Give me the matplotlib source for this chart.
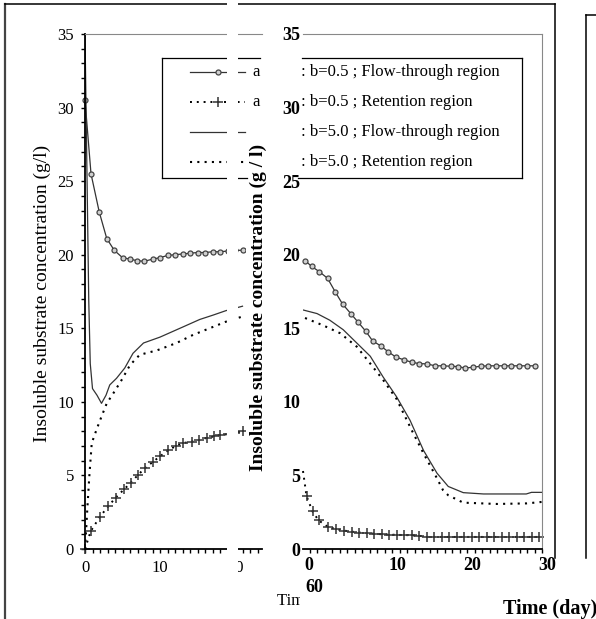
import matplotlib
matplotlib.use("Agg")
import matplotlib.pyplot as plt
from matplotlib.lines import Line2D
from matplotlib.patches import Rectangle
from matplotlib.ticker import MultipleLocator, FixedLocator
import matplotlib.transforms as mtransforms

W, H = 596, 619
plt.rcParams['font.family'] = ['Liberation Serif', 'DejaVu Serif']

# ---- left panel (time in days) ----
left_circ_x = [0, 0.8, 1.9, 2.9, 3.9, 5.0, 6.0, 6.9, 7.9, 9.0, 10.0, 11.0, 12.0, 13.0, 14.0, 15.0, 16.0, 17.0, 18.0, 19.0, 20.0, 21.0]
left_circ_y = [30.5, 25.5, 22.9, 21.1, 20.3, 19.8, 19.7, 19.6, 19.55, 19.7, 19.8, 19.95, 20.0, 20.05, 20.1, 20.15, 20.15, 20.2, 20.2, 20.25, 20.3, 20.3]
left_cross_x = [0, 0.75, 2.0, 3.1, 4.1, 5.2, 6.1, 7.0, 8.0, 9.0, 10.0, 11.1, 12.1, 13.1, 14.2, 15.2, 16.2, 17.2, 18.0, 19.0, 20.0, 21.0]
left_cross_y = [0.0, 1.2, 2.2, 2.9, 3.5, 4.05, 4.5, 5.0, 5.5, 5.9, 6.3, 6.7, 7.0, 7.2, 7.3, 7.4, 7.55, 7.65, 7.75, 7.8, 7.9, 8.0]
left_solid_x = [0, 0.5, 0.7, 1.0, 1.6, 2.2, 2.8, 3.3, 4.2, 5.3, 6.4, 7.8, 10.0, 13.1, 15.3, 17.1, 18.8, 21.0]
left_solid_y = [35.0, 16.9, 12.6, 10.9, 10.45, 9.9, 10.45, 11.15, 11.6, 12.3, 13.3, 14.0, 14.4, 15.1, 15.6, 15.9, 16.2, 16.5]
left_dot_x = [0, 0.13, 0.3, 0.57, 0.9, 1.6, 2.2, 2.9, 3.8, 4.9, 6.0, 7.3, 9.6, 12.2, 14.4, 17.1, 18.8, 21.0]
left_dot_y = [0, 1.1, 2.65, 4.9, 7.2, 8.2, 9.0, 9.9, 10.6, 11.5, 12.5, 13.2, 13.5, 14.0, 14.55, 15.1, 15.45, 15.8]

# ---- right panel ----
right_circ_x = [-1.6, -0.7, 0.3, 1.4, 2.4, 3.4, 4.5, 5.5, 6.5, 7.4, 8.5, 9.5, 10.5, 11.6, 12.6, 13.6, 14.7, 15.7, 16.8, 17.8,
                18.8, 19.7, 20.8, 21.8, 22.8, 23.8, 24.9, 25.9, 26.9, 28.0, 29.1]
right_circ_y = [19.6, 19.2, 18.85, 18.4, 17.5, 16.65, 16.0, 15.4, 14.8, 14.15, 13.8, 13.4, 13.05, 12.85, 12.7, 12.6, 12.58, 12.45, 12.45, 12.42,
                12.4, 12.3, 12.35, 12.42, 12.45, 12.45, 12.45, 12.45, 12.45, 12.45, 12.45]
right_cross_x = [-1.87, -1.4, -0.6, 0.2, 1.4, 2.5, 3.6, 4.6, 5.6, 6.6, 7.6, 8.6, 9.6, 10.6, 11.6, 12.6, 13.6, 14.6, 15.6, 16.6,
                 17.6, 18.6, 19.6, 20.6, 21.6, 22.6, 23.6, 24.6, 25.6, 26.6, 27.6, 28.6, 29.6]
right_cross_y = [5.3, 3.6, 2.55, 1.95, 1.52, 1.35, 1.25, 1.18, 1.12, 1.08, 1.05, 1.0, 0.98, 0.96, 0.95, 0.93, 0.9, 0.82, 0.82, 0.82,
                 0.82, 0.82, 0.82, 0.82, 0.82, 0.82, 0.82, 0.82, 0.82, 0.82, 0.82, 0.82, 0.82]
right_solid_x = [-1.9, 0.0, 1.7, 3.5, 5.3, 7.1, 8.8, 10.6, 12.4, 14.2, 16.0, 17.5, 19.5, 22.2, 24.8, 27.9, 28.6, 30.0]
right_solid_y = [16.25, 16.0, 15.55, 14.9, 14.0, 13.1, 11.7, 10.35, 8.75, 6.7, 5.15, 4.25, 3.83, 3.74, 3.74, 3.74, 3.85, 3.85]
right_dot_x = [-1.6, 0.8, 3.1, 5.3, 7.1, 8.8, 10.6, 12.7, 14.2, 16.0, 16.8, 17.5, 19.5, 24.0, 28.0, 30.0]
right_dot_y = [15.7, 15.2, 14.66, 13.75, 12.6, 11.5, 10.2, 8.0, 6.5, 4.8, 4.0, 3.65, 3.15, 3.06, 3.1, 3.2]

legend_left = ["a", "a", "", ""]
legend_right = [": b=0.5 ; Flow-through region", ": b=0.5 ; Retention region",
                ": b=5.0 ; Flow-through region", ": b=5.0 ; Retention region"]
ylabel_left = "Insoluble substrate concentration (g/l)"
ylabel_right = "Insoluble substrate concentration (g / l)"
xlabel = "Time (day)"

LINE = '#333333'
circ_kw = dict(color=LINE, lw=0.9, marker='o', ms=3.6, mfc='#d0d0d0', mec='#444444', mew=0.9)
cross_kw = dict(color='black', lw=1.4, ls=(0, (1, 2.5)), marker='+', ms=7, mec='#333333', mew=1.1)
solid_kw = dict(color=LINE, lw=0.9)
dot_kw = dict(color='black', lw=1.5, ls=(0, (1, 2.5)))


def box(l, t, r, b):
    return [l / W, 1 - b / H, (r - l) / W, (b - t) / H]


def fy(py):
    return 1 - py / H


def fline(xs, ys, **kw):
    fig.add_artist(Line2D([x / W for x in xs], [fy(y) for y in ys], transform=fig.transFigure, **kw))


fig = plt.figure(figsize=(W / 100, H / 100), dpi=100)

# left panel
axL = fig.add_axes(box(85, 34, 262, 549), zorder=1)
axL.plot(left_circ_x, left_circ_y, **circ_kw, clip_on=False)
axL.plot(left_cross_x, left_cross_y, **cross_kw, clip_on=False)
axL.plot(left_solid_x, left_solid_y, **solid_kw)
axL.plot(left_dot_x, left_dot_y, **dot_kw)
axL.set_xlim(0, 23.6)
axL.set_ylim(0, 35)
axL.spines['right'].set_visible(False)
axL.spines['top'].set_color('#888888')
axL.spines['left'].set_linewidth(1.3)
axL.spines['bottom'].set_linewidth(1.3)
axL.xaxis.set_major_locator(MultipleLocator(10))
axL.xaxis.set_minor_locator(MultipleLocator(1))
axL.yaxis.set_major_locator(MultipleLocator(5))
axL.yaxis.set_minor_locator(MultipleLocator(1))
axL.tick_params(which='both', direction='out', length=3, width=1, labelsize=12, pad=5)
fig.text(42 / W, fy(293), ylabel_left, rotation=90, ha='center', va='center', size=14, zorder=1.2)
fig.text(277 / W, fy(601), xlabel, ha='left', va='center', size=12, zorder=1.5)

# white area of the pasted right panel
fig.add_artist(Rectangle((246 / W, fy(545)), 310 / W, 505 / H, transform=fig.transFigure,
                         facecolor='white', edgecolor='none', zorder=2))
fig.add_artist(Rectangle((300 / W, 0), 256 / W, fy(545), transform=fig.transFigure,
                         facecolor='white', edgecolor='none', zorder=2))

# legend box
lg = dict(color='black', lw=0.9, zorder=3)
fline([162, 260], [58, 58], **lg)
fline([302, 522], [58, 58], **lg)
fline([162, 247], [178, 178], **lg)
fline([298, 522], [178, 178], **lg)
fline([162, 162], [58, 178], **lg)
fline([522, 522], [58, 178], **lg)
rows = [72, 102, 132, 162]
styles = [circ_kw, cross_kw, solid_kw, dot_kw]
for ry, st, tl, tr in zip(rows, styles, legend_left, legend_right):
    fline([190, 245], [ry, ry], zorder=3, **{k: v for k, v in st.items() if not k.startswith('m')})
    if 'marker' in st:
        fline([218], [ry], ls='none', zorder=3, **{k: v for k, v in st.items() if k.startswith('m')})
    if tl:
        fig.text(252 / W, fy(ry), tl, ha='left', va='center', size=12, zorder=3)
    fig.text(301 / W, fy(ry), tr, ha='left', va='center', size=12, zorder=3)

# right panel
axR = fig.add_axes(box(303, 34, 542, 549), zorder=4)
axR.patch.set_visible(False)
axR.plot(right_circ_x, right_circ_y, **circ_kw, clip_on=False)
axR.plot(right_cross_x, right_cross_y, **cross_kw, markevery=slice(1, None), clip_on=False)
axR.plot(right_solid_x, right_solid_y, **solid_kw)
axR.plot(right_dot_x, right_dot_y, **dot_kw)
axR.set_xlim(-1.87, 30)
axR.set_ylim(0, 35)
axR.spines['left'].set_visible(False)
axR.spines['top'].set_color('#888888')
axR.spines['right'].set_color('#888888')
axR.spines['bottom'].set_linewidth(1.3)
axR.xaxis.set_major_locator(FixedLocator([0, 10, 20, 30]))
axR.xaxis.set_minor_locator(MultipleLocator(1))
axR.yaxis.set_major_locator(MultipleLocator(5))
axR.tick_params(axis='x', which='both', direction='out', length=3, width=1, labelsize=13, pad=3)
axR.tick_params(axis='y', length=0, labelsize=13, pad=2)
for lab in axR.get_xticklabels() + axR.get_yticklabels():
    lab.set_fontweight('bold')
for i, lab in enumerate(axR.get_xticklabels()):
    dx = -8 if i == 0 else 5
    lab.set_transform(lab.get_transform() + mtransforms.ScaledTranslation(dx / 100, 0, fig.dpi_scale_trans))
fig.text(258 / W, fy(307), ylabel_right, rotation=90, ha='center', va='center', size=14,
         fontweight='bold', zorder=4.1)
fig.text(503 / W, fy(609), xlabel, ha='left', va='center', size=14.5, fontweight='bold', zorder=4.1)
fig.text(305 / W, fy(587), "60", ha='left', va='center', size=13, fontweight='bold', zorder=4.1)

# outer frames
fline([5, 5], [4, 619], color='#444444', lw=1.6, zorder=4.5)
fline([5, 555], [4, 4], color='black', lw=1.1, zorder=4.5)
fline([555, 555], [4, 558], color='black', lw=1.1, zorder=4.5)
fline([586, 586], [15, 558], color='black', lw=1.1, zorder=4.5)
fline([586, 600], [15, 15], color='black', lw=1.1, zorder=4.5)

# blank strip where the two pictures meet
fig.add_artist(Rectangle((227 / W, 0), 11 / W, 1, transform=fig.transFigure,
                         facecolor='white', edgecolor='none', zorder=5))

fig.savefig("out.png", dpi=100)
